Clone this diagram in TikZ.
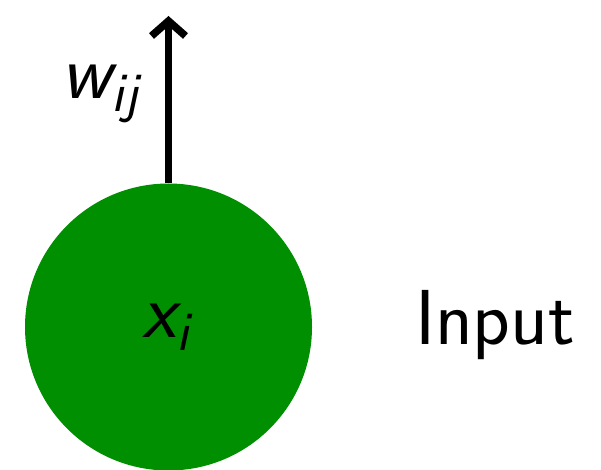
\documentclass[tikz,border=0pt]{standalone}
\usepackage{tikz}
\usetikzlibrary{arrows.meta}
\definecolor{nodegreen}{RGB}{0,143,0}
\newcommand{\nsub}[1]{\raisebox{-0.17em}{\fontsize{56}{60}\selectfont #1}}

\begin{document}
\begin{tikzpicture}[x=1pt,y=1pt,yscale=-1,xscale=1,
  neuron/.style={circle,fill=nodegreen,minimum size=287pt,inner sep=0pt},
  bigtext/.style={font=\fontsize{78}{86}\selectfont\sffamily},
  weight/.style={line width=7.5pt,-{Straight Barb[length=15pt,width=34pt,line width=7.5pt]}}]
\useasboundingbox (0,0) rectangle (601,470);

% Input neuron
\node [neuron] (xi) at (168.5,327) {};
% Weight arrow
\coordinate (top) at (168.5,16);
\draw [weight] (xi.north) -- (top);
% Text Nodes
\node [bigtext] (xlabel) at (166,327) {\itshape x\nsub{i}};
\node [bigtext] (wlabel) at (100,94) {\itshape w\nsub{ij}};
\node [bigtext] (input) at (495,325) {Input};
\end{tikzpicture}
\end{document}
